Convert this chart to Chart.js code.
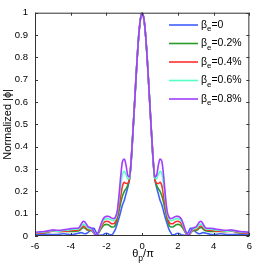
<!DOCTYPE html>
<html>
<head>
<meta charset="utf-8">
<script src="https://cdn.jsdelivr.net/npm/chart.js@4.4.0/dist/chart.umd.min.js"></script>
<style>
html,body{margin:0;padding:0;background:#fff;}
</style>
</head>
<body>
<canvas id="myChart" width="257" height="267"></canvas>
<script>
// theta_p / pi sample positions
var xs = [-6,-5.8,-5.6,-5.4,-5.2,-5,-4.8,-4.6,-4.4,-4.2,-4,-3.8,-3.6,-3.5,-3.4,-3.3,-3.2,-3.1,-3,-2.9,-2.8,-2.7,-2.6,-2.5,-2.4,-2.3,-2.2,-2.1,-2,-1.9,-1.8,-1.7,-1.6,-1.5,-1.4,-1.3,-1.2,-1.1,-1,-0.9,-0.8,-0.7,-0.6,-0.5,-0.4,-0.3,-0.2,-0.1,
  0,0.1,0.2,0.3,0.4,0.5,0.6,0.7,0.8,0.9,1,1.1,1.2,1.3,1.4,1.5,1.6,1.7,1.8,1.9,2,2.1,2.2,2.3,2.4,2.5,2.6,2.7,2.8,2.9,3,3.1,3.2,3.3,3.4,3.5,3.6,3.8,4,4.2,4.4,4.6,4.8,5,5.2,5.4,5.6,5.8,6];

var beta0 = [.005,.005,.006,.008,.008,.006,.006,.008,.01,.008,.006,.008,.012,.014,.015,.012,.01,.012,.018,.026,.034,.034,.02,.006,.003,.004,.005,.01,.012,.01,.005,.005,.015,.03,.055,.08,.11,.14,.16,.19,.22,.26,.35,.49,.63,.77,.89,.97,
  1.0,.97,.89,.77,.63,.49,.35,.26,.22,.19,.16,.14,.11,.08,.055,.03,.015,.005,.005,.01,.012,.01,.005,.004,.003,.006,.02,.034,.034,.026,.018,.012,.01,.012,.015,.014,.012,.008,.006,.008,.01,.008,.006,.006,.008,.008,.006,.005,.005];

var beta02 = [.012,.012,.013,.015,.02,.025,.022,.02,.02,.02,.02,.02,.022,.025,.032,.038,.035,.028,.025,.025,.022,.012,.003,.006,.018,.032,.044,.05,.052,.05,.045,.04,.04,.05,.075,.11,.15,.18,.2,.212,.228,.26,.355,.49,.63,.77,.89,.97,
  1.0,.97,.89,.77,.63,.49,.355,.26,.228,.212,.2,.18,.15,.11,.075,.05,.04,.04,.045,.05,.052,.05,.044,.032,.018,.006,.003,.012,.022,.025,.025,.028,.035,.038,.032,.025,.022,.02,.02,.02,.02,.02,.022,.025,.02,.015,.013,.012,.012];

var beta04 = [.013,.013,.014,.016,.019,.022,.02,.02,.021,.022,.024,.026,.027,.03,.038,.045,.042,.033,.028,.028,.025,.013,.003,.007,.022,.04,.055,.063,.066,.065,.06,.055,.055,.063,.085,.13,.18,.225,.24,.235,.237,.262,.36,.49,.63,.77,.89,.97,
  1.0,.97,.89,.77,.63,.49,.36,.262,.237,.235,.24,.225,.18,.13,.085,.063,.055,.055,.06,.065,.066,.063,.055,.04,.022,.007,.003,.013,.025,.028,.028,.033,.042,.045,.038,.03,.027,.026,.024,.022,.021,.02,.02,.022,.019,.016,.014,.013,.013];

var beta06 = [.015,.016,.017,.019,.021,.024,.022,.023,.025,.026,.028,.03,.03,.035,.045,.053,.05,.04,.033,.032,.028,.015,.003,.008,.026,.048,.066,.075,.078,.077,.074,.07,.068,.075,.1,.16,.23,.28,.29,.275,.255,.262,.36,.49,.63,.77,.89,.97,
  1.0,.97,.89,.77,.63,.49,.36,.262,.255,.275,.29,.28,.23,.16,.1,.075,.068,.07,.074,.077,.078,.075,.066,.048,.026,.008,.003,.015,.028,.032,.033,.04,.05,.053,.045,.035,.03,.03,.028,.026,.025,.023,.022,.024,.021,.019,.017,.016,.015];

var beta08 = [.017,.018,.019,.021,.024,.027,.026,.026,.028,.03,.033,.035,.035,.04,.055,.066,.062,.05,.04,.038,.032,.018,.003,.01,.03,.055,.075,.085,.088,.088,.085,.08,.078,.085,.11,.18,.27,.335,.345,.315,.27,.265,.36,.49,.63,.77,.89,.97,
  1.0,.97,.89,.77,.63,.49,.36,.265,.27,.315,.345,.335,.27,.18,.11,.085,.078,.08,.085,.088,.088,.085,.075,.055,.03,.01,.003,.018,.032,.038,.04,.05,.062,.066,.055,.04,.035,.035,.033,.03,.028,.026,.026,.027,.024,.021,.019,.018,.017];

var betaLabels = ['0','0.2%','0.4%','0.6%','0.8%'];
var colors = ['#3f5fff','#2a9a2a','#ff2e2e','#55ffc4','#a33cff'];
var series = [beta0,beta02,beta04,beta06,beta08];

function pts(ys){
  var out = [];
  for (var i in xs) out.push({x:xs[i], y:ys[i]});
  return out;
}

var datasets = [];
for (var i = 0; i < series.length; i++) {
  datasets.push({
    label: betaLabels[i],
    data: pts(series[i]),
    borderColor: colors[i],
    borderWidth: 1.6,
    pointRadius: 0,
    fill: false,
    cubicInterpolationMode: 'monotone',
    order: series.length - i
  });
}

var FONT = '"Liberation Sans", Arial, sans-serif';

// box, inward ticks, legend, x title
var matlabStuff = {
  id: 'matlabStuff',
  afterDraw: function(chart){
    var c = chart.ctx, a = chart.chartArea;
    var sx = chart.scales.x, sy = chart.scales.y;
    c.save();
    c.strokeStyle = '#333';
    c.lineWidth = 1;
    c.strokeRect(a.left + 0.5, a.top + 0.5, a.right - a.left - 1, a.bottom - a.top - 1);
    c.beginPath();
    sx.ticks.forEach(function(t){
      var px = Math.round(sx.getPixelForValue(t.value)) + 0.5;
      c.moveTo(px, a.bottom); c.lineTo(px, a.bottom - 3);
      c.moveTo(px, a.top); c.lineTo(px, a.top + 3);
    });
    sy.ticks.forEach(function(t){
      var py = Math.round(sy.getPixelForValue(t.value)) + 0.5;
      c.moveTo(a.left, py); c.lineTo(a.left + 3, py);
      c.moveTo(a.right, py); c.lineTo(a.right - 3, py);
    });
    c.stroke();

    // legend
    c.textBaseline = 'middle';
    for (var i = 0; i < betaLabels.length; i++) {
      var y = 25 + i * 18.5;
      c.strokeStyle = colors[i];
      c.lineWidth = 1.6;
      c.beginPath(); c.moveTo(169, y); c.lineTo(198, y); c.stroke();
      c.fillStyle = '#000';
      c.font = '10.5px ' + FONT;
      c.fillText('β', 201, y);
      var w = c.measureText('β').width;
      c.font = '8px ' + FONT;
      c.fillText('e', 201 + w, y + 4);
      var w2 = c.measureText('e').width;
      c.font = '10.5px ' + FONT;
      c.fillText('=' + betaLabels[i], 201 + w + w2, y);
    }

    // x title: theta_p / pi
    c.fillStyle = '#000';
    c.textBaseline = 'alphabetic';
    c.font = '11px ' + FONT;
    var t1 = 'θ', t2 = 'p', t3 = '/π';
    var w1 = c.measureText(t1).width, w3 = c.measureText(t3).width;
    c.font = '8.5px ' + FONT;
    var ws = c.measureText(t2).width;
    var x0 = 143 - (w1 + ws + w3) / 2;
    c.font = '11px ' + FONT;
    c.fillText(t1, x0, 257);
    c.font = '8.5px ' + FONT;
    c.fillText(t2, x0 + w1, 261);
    c.font = '11px ' + FONT;
    c.fillText(t3, x0 + w1 + ws, 257);
    c.restore();
  }
};

var ctx = document.getElementById('myChart');
var chart = new Chart(ctx, {
  type: 'line',
  data: { datasets: datasets },
  options: {
    responsive: false,
    animation: false,
    devicePixelRatio: 1,
    layout: { padding: { left: 0, right: 7, top: 11, bottom: 0 } },
    plugins: { legend: { display: false }, tooltip: { enabled: false } },
    scales: {
      x: {
        type: 'linear', min: -6, max: 6,
        grid: { display: false, drawTicks: false },
        border: { display: false },
        ticks: { stepSize: 2, color: '#000', padding: 5, font: { size: 9.5, family: FONT } },
        afterFit: function(s){ s.height = 31; }
      },
      y: {
        min: 0, max: 1,
        grid: { display: false, drawTicks: false },
        border: { display: false },
        ticks: { stepSize: 0.1, color: '#000', padding: 7, font: { size: 9.5, family: FONT },
          callback: function(v){ return +v.toFixed(1); } },
        title: { display: true, text: 'Normalized |ϕ|', color: '#000', padding: { top: 1, bottom: 0 },
          font: { size: 11, family: FONT } },
        afterFit: function(s){ s.width = 35; }
      }
    }
  },
  plugins: [matlabStuff]
});
</script>
</body>
</html>
